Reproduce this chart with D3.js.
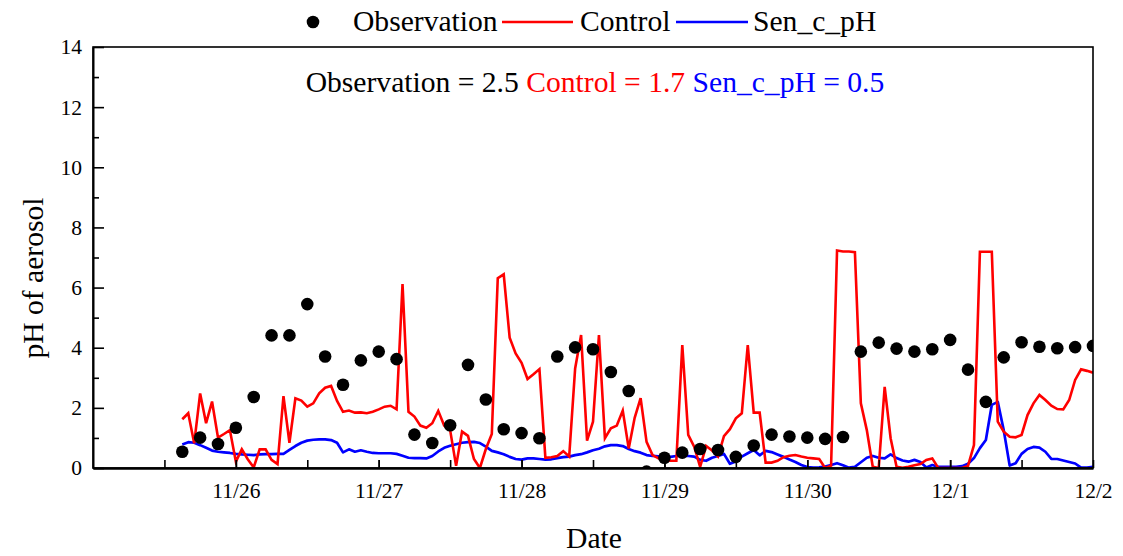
<!DOCTYPE html>
<html>
<head>
<meta charset="utf-8">
<script src="https://cdn.jsdelivr.net/npm/d3@7"></script>
<style>
  html, body { margin: 0; padding: 0; background: #fff; }
  svg { display: block; font-family: "Liberation Serif", "Times New Roman", serif; }
</style>
</head>
<body>
<svg id="chart" width="1123" height="556"></svg>
<script>
// ---------- data ----------
const seriesNames = ["Observation", "Control", "Sen_c_pH"];
const seriesColors = ["#000000", "#ff0000", "#0000ff"];
const scoreValues = ["2.5", "1.7", "0.5"];

// hourly model output, starting 11/25 15:00
const lineStart = new Date(2017, 10, 25, 15);
const lineStepHours = 1;
const controlValues = [
  1.62,1.82,0.82,2.48,1.49,2.21,1.01,1.13,1.26,0.21,0.62,0.29,0.02,0.62,0.62,0.27,0.13,2.39,0.84,2.32,
  2.24,2.04,2.15,2.48,2.67,2.73,2.23,1.87,1.91,1.84,1.85,1.82,1.87,1.95,2.04,2.07,1.95,6.12,1.87,1.71,
  1.41,1.34,1.49,1.90,1.41,1.26,0.07,1.21,1.07,0.30,0.00,0.63,1.13,6.31,6.44,4.33,3.81,3.50,2.96,3.12,
  3.29,0.34,0.36,0.40,0.56,0.38,3.31,4.42,0.91,1.54,4.42,0.99,1.32,1.41,1.91,0.65,1.67,2.32,0.87,0.43,
  0.32,0.27,0.24,0.24,4.09,1.10,0.71,0.04,0.73,0.58,0.38,1.06,1.29,1.65,1.82,4.09,1.84,1.84,0.18,0.18,
  0.24,0.36,0.41,0.43,0.38,0.34,0.32,0.30,0.00,0.08,7.23,7.20,7.20,7.18,2.15,1.26,0.04,0.00,2.70,0.99,
  0.04,0.01,0.04,0.09,0.13,0.27,0.32,0.00,0.00,0.00,0.00,0.00,0.07,0.76,7.19,7.19,7.19,1.54,1.21,1.04,
  1.02,1.10,1.76,2.15,2.43,2.26,2.07,1.96,1.95,2.26,2.93,3.28,3.23,3.17
];
const senValues = [
  0.78,0.86,0.84,0.76,0.67,0.58,0.54,0.52,0.50,0.47,0.45,0.44,0.43,0.45,0.46,0.46,0.47,0.47,0.60,0.73,
  0.84,0.91,0.94,0.95,0.95,0.93,0.84,0.52,0.62,0.54,0.59,0.54,0.50,0.49,0.49,0.49,0.47,0.41,0.34,0.33,
  0.33,0.32,0.40,0.55,0.67,0.74,0.79,0.84,0.86,0.87,0.83,0.71,0.57,0.52,0.46,0.37,0.30,0.28,0.32,0.32,
  0.30,0.28,0.29,0.33,0.36,0.38,0.43,0.46,0.52,0.59,0.64,0.72,0.76,0.76,0.73,0.63,0.56,0.51,0.43,0.40,
  0.39,0.37,0.37,0.40,0.41,0.40,0.38,0.27,0.24,0.34,0.40,0.47,0.14,0.22,0.38,0.49,0.60,0.42,0.57,0.53,
  0.45,0.37,0.28,0.20,0.10,0.03,0.01,0.02,0.05,0.10,0.16,0.09,0.01,0.04,0.19,0.34,0.40,0.34,0.32,0.45,
  0.33,0.25,0.21,0.27,0.20,0.02,0.10,0.04,0.04,0.04,0.04,0.06,0.14,0.33,0.66,0.93,2.10,2.20,1.26,0.08,
  0.16,0.47,0.63,0.70,0.68,0.54,0.30,0.30,0.25,0.20,0.15,0.01,0.01,0.04
];

// 3-hourly observations, starting 11/25 15:00
const obsStart = new Date(2017, 10, 25, 15);
const obsStepHours = 3;
const obsValues = [
  0.54,1.01,0.80,1.34,2.36,4.41,4.41,5.45,3.71,2.77,3.58,3.87,3.62,1.11,0.83,1.42,3.43,2.28,1.29,1.16,
  0.99,3.71,4.01,3.95,3.19,2.56,-0.12,0.34,0.51,0.63,0.60,0.37,0.75,1.11,1.05,1.01,0.97,1.03,3.87,4.17,
  3.97,3.87,3.95,4.26,3.27,2.20,3.68,4.18,4.03,3.98,4.02,4.06
];

// axis definitions
const xStart = new Date(2017, 10, 25, 0);
const xEnd = new Date(2017, 11, 2, 0);
const xTickLabels = ["11/26", "11/27", "11/28", "11/29", "11/30", "12/1", "12/2"];
const xTickDates = [
  new Date(2017, 10, 26), new Date(2017, 10, 27), new Date(2017, 10, 28), new Date(2017, 10, 29),
  new Date(2017, 10, 30), new Date(2017, 11, 1), new Date(2017, 11, 2)
];
const yTicks = [0, 2, 4, 6, 8, 10, 12, 14];
const yMinorTicks = [1, 3, 5, 7, 9, 11, 13];
const xLabel = "Date";
const yLabel = "pH of aerosol";

// ---------- drawing ----------
const svg = d3.select("#chart");
const L = 93, R = 1093, T = 47, B = 468;
const bigFont = 29.6, tickFont = 21.5;

const x = d3.scaleTime().domain([xStart, xEnd]).range([L, R]);
const y = d3.scaleLinear().domain([0, 14]).range([B, T]);

const hour = 3600 * 1000;
const tLine = i => new Date(lineStart.getTime() + i * lineStepHours * hour);
const tObs = i => new Date(obsStart.getTime() + i * obsStepHours * hour);

svg.append("defs").append("clipPath").attr("id", "clip")
  .append("rect").attr("x", L).attr("y", T).attr("width", R - L).attr("height", B - T);

const plot = svg.append("g").attr("clip-path", "url(#clip)");

const line = d3.line().x((d, i) => x(tLine(i))).y(d => y(d));

plot.append("path").datum(senValues)
  .attr("d", line).attr("fill", "none")
  .attr("stroke", seriesColors[2]).attr("stroke-width", 2.7).attr("stroke-linejoin", "round");

plot.append("path").datum(controlValues)
  .attr("d", line).attr("fill", "none")
  .attr("stroke", seriesColors[1]).attr("stroke-width", 2.6).attr("stroke-linejoin", "miter");

plot.selectAll("circle.obs").data(obsValues).join("circle")
  .attr("class", "obs")
  .attr("cx", (d, i) => x(tObs(i)))
  .attr("cy", d => y(d))
  .attr("r", 6.3)
  .attr("fill", seriesColors[0]);

// frame
svg.append("rect").attr("x", L).attr("y", T).attr("width", R - L).attr("height", B - T)
  .attr("fill", "none").attr("stroke", "#000").attr("stroke-width", 1.6);

// x axis
const minorXTicks = d3.timeHour.every(12).range(new Date(2017, 10, 25, 12), xEnd);
const xAxisMinor = d3.axisBottom(x).tickValues(minorXTicks).tickFormat("").tickSizeInner(-8).tickSizeOuter(0);
const gxm = svg.append("g").attr("transform", `translate(0,${B})`).call(xAxisMinor);
gxm.select(".domain").remove();
gxm.selectAll("line").attr("stroke-width", 1.6);

const xAxis = d3.axisBottom(x).tickValues(xTickDates)
  .tickFormat((d, i) => xTickLabels[i]).tickSizeInner(-8).tickSizeOuter(0).tickPadding(15);
const gx = svg.append("g").attr("transform", `translate(0,${B})`).call(xAxis);
gx.select(".domain").attr("stroke-width", 2.6);
gx.selectAll("line").attr("stroke-width", 1.6);
gx.selectAll("text").attr("font-size", tickFont).attr("font-family", "Liberation Serif").attr("fill", "#000");

// y axis
const yAxisMinor = d3.axisLeft(y).tickValues(yMinorTicks).tickFormat("").tickSizeInner(-6).tickSizeOuter(0);
const gym = svg.append("g").attr("transform", `translate(${L},0)`).call(yAxisMinor);
gym.select(".domain").remove();
gym.selectAll("line").attr("stroke-width", 1.6);

const yAxis = d3.axisLeft(y).tickValues(yTicks).tickSizeInner(-11).tickSizeOuter(0).tickPadding(11);
const gy = svg.append("g").attr("transform", `translate(${L},0)`).call(yAxis);
gy.select(".domain").attr("stroke-width", 2);
gy.selectAll("line").attr("stroke-width", 1.6);
gy.selectAll("text").attr("font-size", tickFont).attr("font-family", "Liberation Serif").attr("fill", "#000");

// axis titles
svg.append("text").attr("x", 594).attr("y", 548).attr("text-anchor", "middle")
  .attr("font-size", bigFont).text(xLabel);
svg.append("text").attr("transform", "translate(43,278) rotate(-90)").attr("text-anchor", "middle")
  .attr("font-size", bigFont).text(yLabel);

// legend
const lg = svg.append("g");
lg.append("circle").attr("cx", 313).attr("cy", 22).attr("r", 6.3).attr("fill", seriesColors[0]);
lg.append("text").attr("x", 353).attr("y", 31).attr("font-size", bigFont).text(seriesNames[0]);
lg.append("line").attr("x1", 502).attr("x2", 573).attr("y1", 22).attr("y2", 22)
  .attr("stroke", seriesColors[1]).attr("stroke-width", 2.6);
lg.append("text").attr("x", 580).attr("y", 31).attr("font-size", bigFont).text(seriesNames[1]);
lg.append("line").attr("x1", 676).attr("x2", 748).attr("y1", 22).attr("y2", 22)
  .attr("stroke", seriesColors[2]).attr("stroke-width", 2.6);
lg.append("text").attr("x", 753).attr("y", 31).attr("font-size", bigFont).text(seriesNames[2]);

// score annotation
const ann = svg.append("text").attr("x", 595).attr("y", 92).attr("text-anchor", "middle")
  .attr("font-size", bigFont);
seriesNames.forEach((n, i) => {
  ann.append("tspan").attr("fill", seriesColors[i])
    .text(n + " = " + scoreValues[i] + (i < seriesNames.length - 1 ? " " : ""));
});
</script>
</body>
</html>
